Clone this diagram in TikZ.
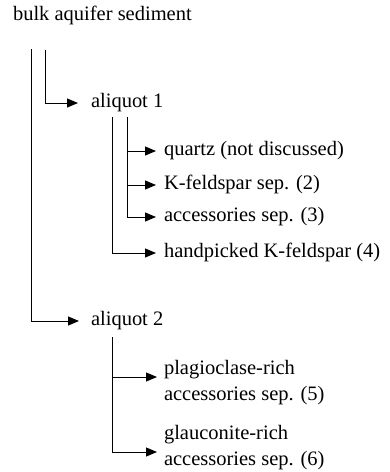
\documentclass[tikz,border=0pt]{standalone}
\usepackage{fontspec}
\setmainfont{Liberation Serif}
\usetikzlibrary{arrows.meta}
\begin{document}
\begin{tikzpicture}[x=1pt,y=-1pt,
  lbl/.style={anchor=west,inner sep=0pt,outer sep=0pt,font=\fontsize{20.5}{26}\selectfont,text height=14pt,text depth=4.5pt},
  lbl2/.style={anchor=west,inner sep=0pt,outer sep=0pt,font=\fontsize{20.5}{26}\selectfont,align=left},
  ln/.style={line width=1pt},
  arr/.style={line width=1pt,-{Triangle[length=11pt,width=9pt]}}]
\useasboundingbox (0,0) rectangle (389,472);
% texts
\node[lbl] (bulk) at (13,16) {bulk aquifer sediment};
\node[lbl] (a1) at (91,103) {aliquot 1};
\node[lbl] (qz) at (164,151) {quartz (not discussed)};
\node[lbl] (kf) at (164,185) {K-feldspar sep. (2)};
\node[lbl] (ac) at (164,217) {accessories sep. (3)};
\node[lbl] (hp) at (164,253) {handpicked K-feldspar (4)};
\node[lbl] (a2) at (91,321) {aliquot 2};
\node[lbl2] (pl) at (164,383) {plagioclase-rich\\accessories sep. (5)};
\node[lbl2] (gl) at (164,448) {glauconite-rich\\accessories sep. (6)};
% free ends
\coordinate (o) at (31,49);
\coordinate (i) at (45,50);
\coordinate (b1) at (112,117);
\coordinate (b2) at (127,117);
\coordinate (b3) at (112,337);
\coordinate (plt) at ([yshift=6pt]pl.west);
\coordinate (glt) at ([yshift=-4pt]gl.west);
% connectors
\draw[arr,shorten >=12pt] (o) |- (a2.west);
\draw[arr,shorten >=13pt] (i) |- (a1.west);
\draw[arr,shorten >=8pt] (b1) |- (hp.west);
\draw[arr,shorten >=8pt] (b2) |- (ac.west);
\draw[arr,shorten >=8pt] (b2 |- qz.west) -- (qz.west);
\draw[arr,shorten >=8pt] (b2 |- kf.west) -- (kf.west);
\draw[arr,shorten >=7pt] (b3) |- (glt);
\draw[arr,shorten >=7pt] (b3 |- plt) -- (plt);
\end{tikzpicture}
\end{document}
